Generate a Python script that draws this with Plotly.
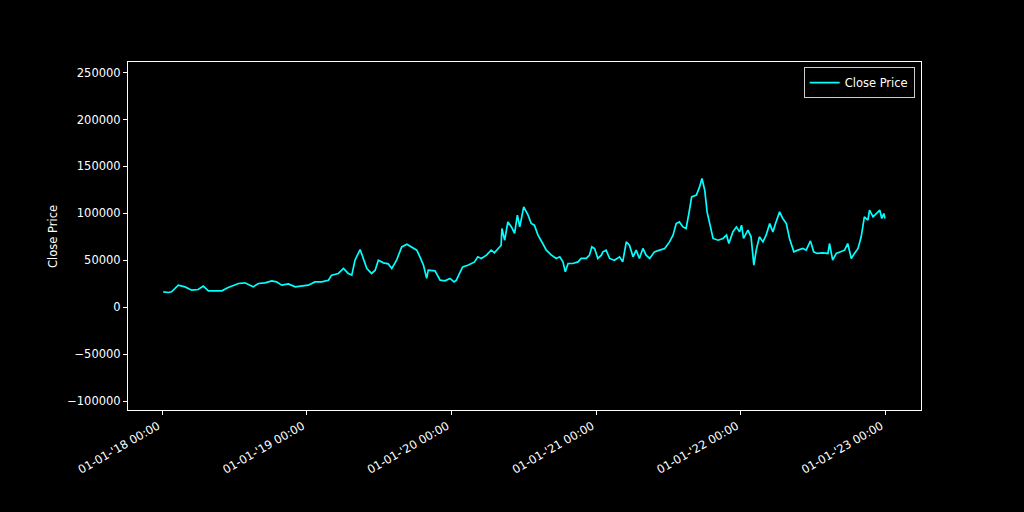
import plotly.graph_objects as go

dates = [
    "2018-01-04", "2018-01-17", "2018-01-25", "2018-02-11", "2018-02-28", "2018-03-17",
    "2018-04-02", "2018-04-15", "2018-04-28", "2018-05-15", "2018-06-01", "2018-06-17",
    "2018-07-04", "2018-07-13", "2018-07-29", "2018-08-19", "2018-09-01", "2018-09-18",
    "2018-10-05", "2018-10-17", "2018-10-30", "2018-11-16", "2018-12-03", "2018-12-20",
    "2018-12-28", "2019-01-05", "2019-01-22", "2019-02-08", "2019-02-25", "2019-03-05",
    "2019-03-22", "2019-04-04", "2019-04-16", "2019-04-25", "2019-05-03", "2019-05-16",
    "2019-05-24", "2019-06-02", "2019-06-14", "2019-06-23", "2019-07-01", "2019-07-14",
    "2019-07-26", "2019-08-04", "2019-08-16", "2019-08-29", "2019-09-11", "2019-09-23",
    "2019-10-06", "2019-10-14", "2019-10-23", "2019-10-31", "2019-11-04", "2019-11-21",
    "2019-12-04", "2019-12-16", "2019-12-29", "2020-01-08", "2020-01-14", "2020-01-22",
    "2020-01-30", "2020-02-12", "2020-02-29", "2020-03-08", "2020-03-17", "2020-03-30",
    "2020-04-11", "2020-04-19", "2020-04-28", "2020-05-06", "2020-05-08", "2020-05-15",
    "2020-05-23", "2020-06-01", "2020-06-09", "2020-06-16", "2020-06-22", "2020-07-02",
    "2020-07-13", "2020-07-21", "2020-07-29", "2020-08-07", "2020-08-19", "2020-08-28",
    "2020-09-10", "2020-09-22", "2020-10-01", "2020-10-09", "2020-10-15", "2020-10-22",
    "2020-11-03", "2020-11-16", "2020-11-24", "2020-12-07", "2020-12-15", "2020-12-21",
    "2020-12-28", "2021-01-05", "2021-01-14", "2021-01-18", "2021-01-26", "2021-02-04",
    "2021-02-16", "2021-03-01", "2021-03-09", "2021-03-18", "2021-03-26", "2021-04-04",
    "2021-04-12", "2021-04-20", "2021-04-29", "2021-05-07", "2021-05-16", "2021-05-28",
    "2021-06-10", "2021-06-23", "2021-07-05", "2021-07-14", "2021-07-22", "2021-07-30",
    "2021-08-08", "2021-08-16", "2021-08-23", "2021-08-30", "2021-09-11", "2021-09-19",
    "2021-09-25", "2021-10-02", "2021-10-08", "2021-10-14", "2021-10-23", "2021-11-05",
    "2021-11-17", "2021-11-26", "2021-12-02", "2021-12-12", "2021-12-21", "2021-12-29",
    "2022-01-03", "2022-01-08", "2022-01-10", "2022-01-19", "2022-01-27", "2022-02-03",
    "2022-02-09", "2022-02-17", "2022-02-26", "2022-03-06", "2022-03-15", "2022-03-23",
    "2022-03-31", "2022-04-09", "2022-04-17", "2022-04-26", "2022-05-04", "2022-05-15",
    "2022-05-25", "2022-06-07", "2022-06-15", "2022-06-26", "2022-07-04", "2022-07-13",
    "2022-07-27", "2022-08-09", "2022-08-13", "2022-08-21", "2022-08-30", "2022-09-12",
    "2022-09-20", "2022-09-28", "2022-10-07", "2022-10-15", "2022-10-24", "2022-11-01",
    "2022-11-09", "2022-11-18", "2022-11-22", "2022-12-01", "2022-12-09", "2022-12-18",
    "2022-12-23", "2022-12-28", "2022-12-31",
]

close_price = [
    16400, 15700, 16500, 23500, 21700, 18200,
    18900, 22500, 17500, 17500, 17500, 21000,
    23500, 25300, 26000, 21700, 25300, 26000,
    28100, 27000, 23500, 24800, 21700, 22500,
    23500, 23500, 27000, 27000, 28800, 34200,
    36000, 41300, 36000, 34200, 50100, 61500,
    52000, 41300, 36000, 39500, 50100, 47300,
    46200, 41300, 50100, 64300, 67200, 63700,
    60800, 53700, 44800, 30700, 39500, 38800,
    28800, 28100, 30700, 27000, 28800, 36000,
    43000, 44800, 48300, 53700, 52000, 55500,
    60800, 58000, 62600, 66100, 83900, 71400,
    90900, 85600, 78600, 98100, 85600, 106900,
    98100, 89200, 87400, 76800, 67900, 60800,
    55500, 52000, 53700, 48300, 37700, 46600,
    46600, 48300, 52000, 52000, 55500, 64300,
    62600, 52000, 55500, 59000, 60800, 52000,
    50100, 53700, 48300, 69600, 66100, 53700,
    60800, 52000, 62600, 55500, 52000, 59000,
    60800, 62600, 69600, 76800, 89200, 90900,
    85600, 83900, 99900, 117500, 119400, 128200,
    137100, 124700, 101600, 89200, 73300, 71400,
    73300, 76800, 67900, 80300, 85600, 80300,
    87400, 73300, 75000, 82100, 75000, 44800,
    60800, 75000, 69600, 76800, 89200, 80300,
    90900, 101600, 94600, 89200, 73300, 59000,
    60800, 62600, 60800, 70700, 59000, 57300,
    58000, 57300, 67900, 50100, 57300, 59000,
    60800, 67900, 52000, 57300, 62600, 75000,
    96200, 92700, 103400, 96200, 99900, 103400,
    94600, 99900, 94600,
]

y_ticks = [-100000, -50000, 0, 50000, 100000, 150000, 200000, 250000]

FONT = "DejaVu Sans"
FG = "#ffffff"

fig = go.Figure()
fig.add_trace(go.Scatter(
    x=dates, y=close_price, mode="lines", name="Close Price",
    line=dict(color="#00ffff", width=1.7),
))

fig.update_layout(
    width=1024, height=512,
    paper_bgcolor="black", plot_bgcolor="black",
    margin=dict(l=128, r=103, t=62, b=102),
    font=dict(family=FONT, size=11.5, color=FG),
    showlegend=True,
    legend=dict(
        x=0.992, y=0.985, xanchor="right", yanchor="top",
        bgcolor="black", bordercolor="#cccccc", borderwidth=1,
        font=dict(family=FONT, size=11.5, color=FG),
        itemwidth=30,
    ),
    xaxis=dict(
        type="date",
        range=["2017-10-07", "2023-04-01"],
        tick0="2018-01-01", dtick="M12",
        tickformat="%m-%d-'%y %H:%M",
        tickangle=-30,
        ticklabelshift=-4,
        ticks="outside", ticklen=4, tickcolor=FG, tickwidth=1,
        showgrid=False, zeroline=False,
        showline=True, linecolor=FG, linewidth=1, mirror=True,
        tickfont=dict(family=FONT, size=11.5, color=FG),
    ),
    yaxis=dict(
        range=[-109500, 261300],
        tickmode="array", tickvals=y_ticks,
        tickformat="d",
        ticks="outside", ticklen=4, tickcolor=FG, tickwidth=1,
        showgrid=False, zeroline=False,
        showline=True, linecolor=FG, linewidth=1, mirror=True,
        tickfont=dict(family=FONT, size=11.5, color=FG),
    ),
    annotations=[dict(
        text="Close Price", xref="paper", yref="paper",
        x=-0.0946, y=0.5, xanchor="center", yanchor="middle",
        textangle=-90, showarrow=False,
        font=dict(family=FONT, size=11.5, color=FG),
    )],
)

fig.write_html("out.html", config={"displayModeBar": False})

with open("out.html", "r", encoding="utf-8") as f:
    html = f.read()
html = html.replace("<head>", "<head><style>html,body{margin:0;padding:0;background:#000;}</style>", 1)
with open("out.html", "w", encoding="utf-8") as f:
    f.write(html)
